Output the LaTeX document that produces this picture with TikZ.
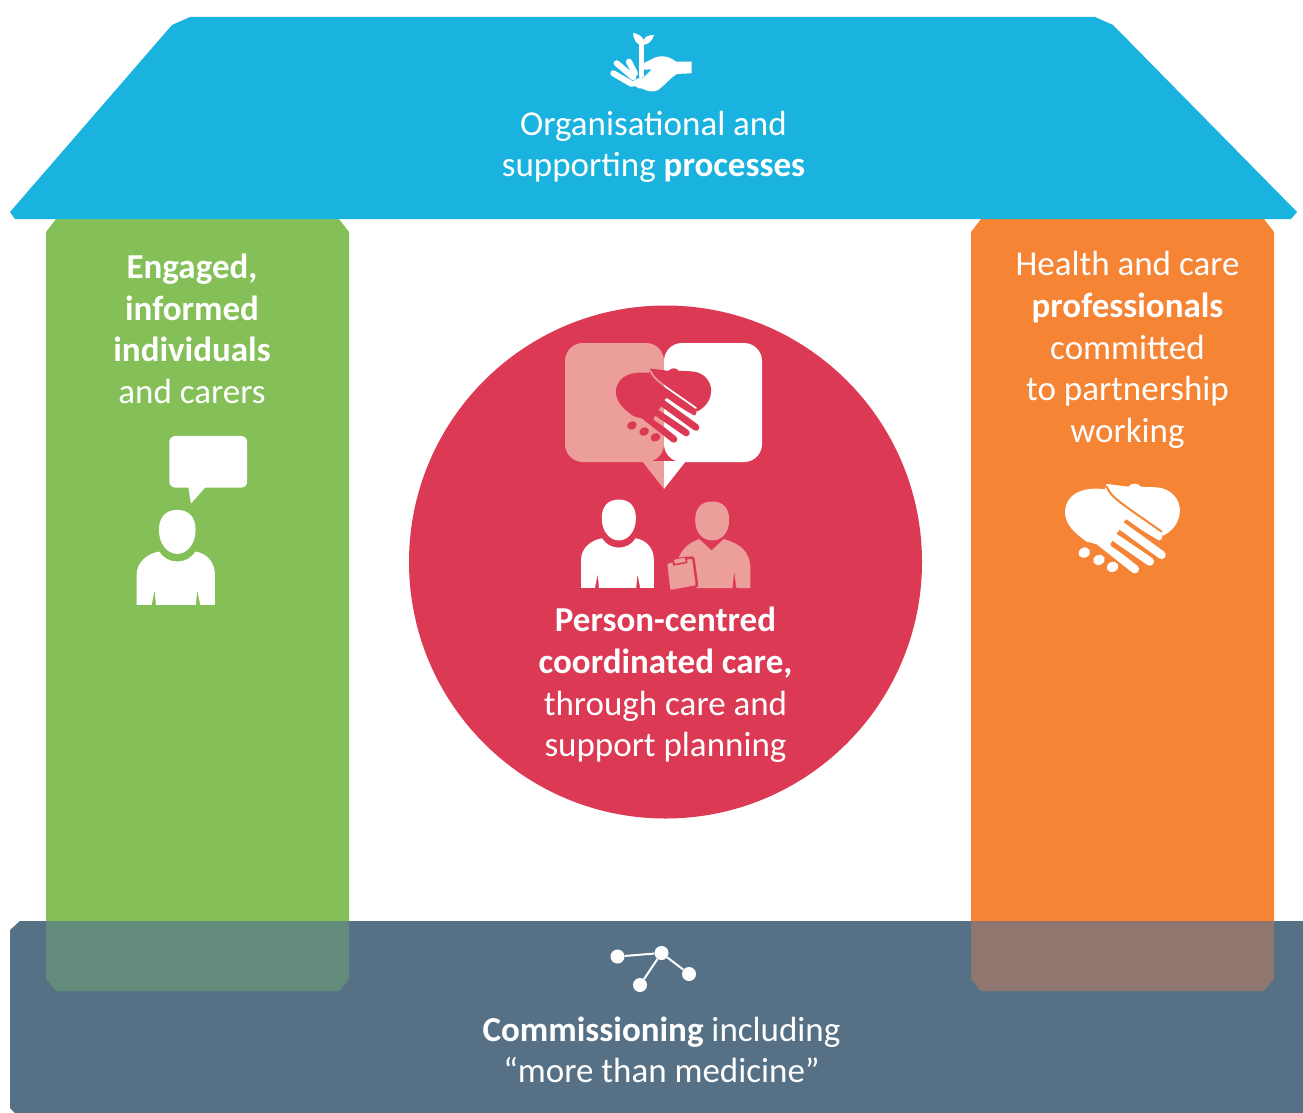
\documentclass[tikz,border=0pt]{standalone}
\usepackage{fontspec}
\setmainfont{Carlito}
\definecolor{roof}{HTML}{1AB2DE}
\definecolor{gr}{HTML}{84C057}
\definecolor{orng}{HTML}{F58434}
\definecolor{band}{HTML}{567186}
\definecolor{grov}{HTML}{628B7C}
\definecolor{orov}{HTML}{8F7770}
\definecolor{red1}{HTML}{DC3A54}
\definecolor{pnk}{HTML}{EC9F9A}
\tikzset{
  lbl/.style={text=white,align=center,font=\fontsize{35}{41.6}\selectfont,inner sep=0pt},
  dotn/.style={circle,fill=white,minimum size=14pt,inner sep=0pt},
}
% handshake heart in 3x crop coordinates
\newcommand{\handheart}[3]{% fg, gap, scale
 \def\hs{#3}
 \fill[#1] (170,42) -- (235,50) .. controls (245,38) and (265,38) .. (272,50) -- (320,52)
   .. controls (365,55) and (392,90) .. (390,125) .. controls (388,160) and (365,185) .. (340,197)
   -- (240,130) -- (175,232) -- (110,215) .. controls (75,190) and (45,165) .. (45,125)
   .. controls (48,65) and (110,50) .. (165,58) -- cycle;
 \draw[#1,line cap=round,line width=25pt*\hs] (205,115) -- (325,200) (190,150) -- (335,255) (170,185) -- (300,275) (150,215) -- (255,298);
 \draw[#2,line cap=round,line width=6pt*\hs] (170,50) .. controls (185,85) and (215,100) .. (335,185)
   (225,155) -- (328,216) (203,190) -- (322,268) (185,226) -- (275,285);
 \fill[#1,rotate around={25:(103,248)}] (103,248) ellipse (18 and 15);
 \fill[#1,rotate around={25:(147,270)}] (147,270) ellipse (18 and 15);
 \fill[#1,rotate around={25:(188,291)}] (188,291) ellipse (18 and 15);
}
% person in 3x crop coordinates
\newcommand{\personicon}{%
 \fill[white] (172,255) .. controls (205,255) and (227,275) .. (227,315) .. controls (227,360) and (200,387) .. (172,387)
   .. controls (144,387) and (117,360) .. (117,315) .. controls (117,275) and (139,255) .. (172,255) -- cycle;
 \fill[white] (50,540) -- (50,450) .. controls (50,410) and (85,385) .. (118,380)
   .. controls (130,400) and (150,410) .. (172,410) .. controls (194,410) and (214,400) .. (226,380)
   .. controls (259,385) and (285,410) .. (285,450) -- (285,540) -- (241,540) -- (232,495) -- (228,540)
   -- (108,540) -- (104,495) -- (95,540) -- cycle;
}
\begin{document}
\begin{tikzpicture}[x=1pt,y=-1pt]
\useasboundingbox (0,0) rectangle (1303,1113);
% pillars
\fill[gr] (46,232) -- (56,219) -- (339,219) -- (349,232) -- (349,930) -- (46,930) -- cycle;
\fill[orng] (971,232) -- (981,219) -- (1264,219) -- (1274,232) -- (1274,930) -- (971,930) -- cycle;
% band
\fill[band] (10,930) -- (20,921) -- (1303,921) -- (1303,1113) -- (15,1113) -- (10,1108) -- cycle;
\fill[grov] (46,921) -- (349,921) -- (349,979) -- (339,991) -- (56,991) -- (46,979) -- cycle;
\fill[orov] (971,921) -- (1274,921) -- (1274,979) -- (1264,991) -- (981,991) -- (971,979) -- cycle;
% roof
\fill[roof] (190,17) -- (1095,17) -- (1113,25) -- (1297,212) -- (1291,219) -- (15,219) -- (10,212) -- (172,25) -- cycle;
% circle
\node[circle,fill=red1,minimum size=513pt,inner sep=0pt] (hub) at (665.5,562) {};
% roof icon
\begin{scope}[shift={(590,20)},x=0.333pt,y=-0.333pt]
 \fill[white] (305,125) -- (258,125) .. controls (235,105) and (205,105) .. (185,118) -- (150,135) -- (150,150) -- (185,148)
   .. controls (170,165) and (160,175) .. (150,178) -- (125,190) -- (118,195) -- (155,205) .. controls (175,215) and (190,218) .. (205,210)
   .. controls (225,195) and (245,170) .. (262,162) -- (305,160) -- cycle;
 \draw[white,line cap=round,line width=6pt] (80,130) -- (130,172) (117,125) -- (135,160) (70,160) -- (125,192);
 \fill[white] (125,185) -- (155,170) -- (170,205) -- (145,205) -- cycle;
 \draw[white,line width=4.5pt] (155,70) -- (155,172);
 \fill[white] (130,38) .. controls (150,45) and (158,50) .. (160,60) .. controls (168,48) and (178,45) .. (192,45)
   .. controls (188,62) and (175,75) .. (157,75) .. controls (140,75) and (130,60) .. (130,38) -- cycle;
\end{scope}
% green icon
\begin{scope}[shift={(120,425)},x=0.333pt,y=-0.333pt]
 \fill[white,rounded corners=6pt] (148,33) rectangle (382,188);
 \fill[white] (205,185) -- (213,236) -- (258,185) -- cycle;
 \personicon
\end{scope}
% orange icon
\begin{scope}[shift={(1050,470)},x=0.333pt,y=-0.333pt]
 \handheart{white}{orng}{0.333}
\end{scope}
% red bubble
\fill[pnk,rounded corners=18pt] (664,343) -- (565,343) -- (565,462) -- (664,462) -- cycle;
\fill[white,rounded corners=18pt] (664,343) -- (762,343) -- (762,462) -- (664,462) -- cycle;
\fill[pnk] (642,461) -- (664,489) -- (664,461) -- cycle;
\fill[white] (686,461) -- (664,489) -- (664,461) -- cycle;
\begin{scope}
 \clip (560,340) rectangle (664,500);
 \begin{scope}[shift={(603.5,357)},x=0.276pt,y=-0.276pt]
  \handheart{red1}{pnk}{0.276}
 \end{scope}
\end{scope}
\begin{scope}
 \clip (664,340) rectangle (770,500);
 \begin{scope}[shift={(603.5,357)},x=0.276pt,y=-0.276pt]
  \handheart{red1}{white}{0.276}
 \end{scope}
\end{scope}
% white person in circle
\begin{scope}[shift={(565.5,420.5)},x=0.31pt,y=-0.31pt]
 \personicon
\end{scope}
% clinician with clipboard
\begin{scope}[shift={(540,330)},x=0.333pt,y=-0.333pt]
 \fill[pnk] (517,515) .. controls (550,515) and (568,535) .. (568,570) .. controls (568,610) and (545,632) .. (517,632)
   .. controls (489,632) and (466,610) .. (466,570) .. controls (466,535) and (484,515) .. (517,515) -- cycle;
 \fill[pnk] (415,690) .. controls (425,655) and (450,638) .. (478,628) -- (515,662) -- (552,628)
   .. controls (595,640) and (632,660) .. (632,720) -- (632,775) -- (590,775) -- (583,725) -- (578,775) -- (450,775) -- cycle;
 \draw[red1,line width=2.5pt,fill=pnk,rounded corners=2pt,line join=round] (378,698) -- (460,682) -- (472,770) -- (388,785) -- cycle;
 \fill[red1] (396,688) -- (440,680) -- (443,700) -- (400,708) -- cycle;
 \fill[pnk] (402,690) -- (434,684) -- (437,696) -- (405,702) -- cycle;
\end{scope}
% network icon
\node[dotn] (na) at (617.5,956.5) {};
\node[dotn] (nb) at (661.5,953) {};
\node[dotn] (nc) at (689,974) {};
\node[dotn] (nd) at (640,985) {};
\draw[white,line width=2pt] (na) -- (nb) (nb) -- (nc) (nb) -- (nd);
% texts
\node[lbl] (troof) at (653.5,147) {Organisational and\\supporting \textbf{processes}};
\node[lbl] (tgreen) at (192,329) {\textbf{Engaged,}\\\textbf{informed}\\\textbf{individuals}\\and carers};
\node[lbl] (torange) at (1127.5,350) {Health and care\\\textbf{professionals}\\committed\\to partnership\\working};
\node[lbl] (thub) at (665.5,685) {\textbf{Person-centred}\\\textbf{coordinated care,}\\through care and\\support planning};
\node[lbl] (tband) at (661.5,1050) {\textbf{Commissioning} including\\“more than medicine”};
\end{tikzpicture}
\end{document}
